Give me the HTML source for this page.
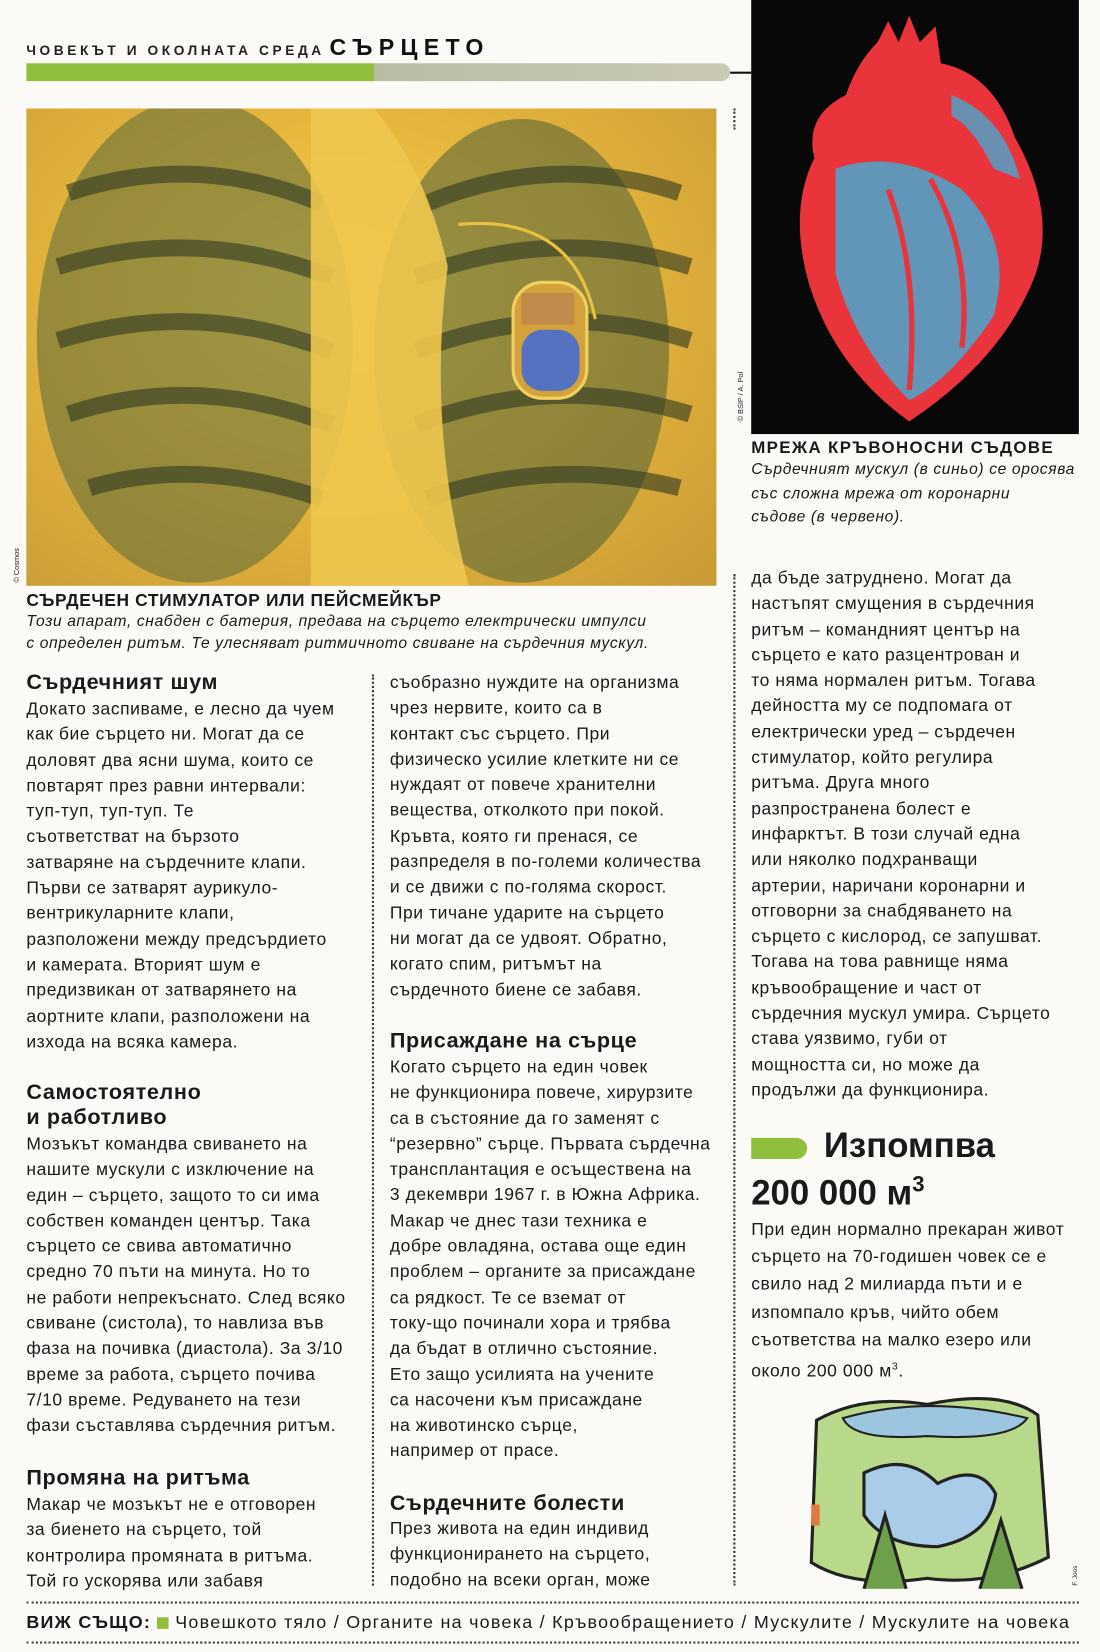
<!DOCTYPE html>
<html><head><meta charset="utf-8">
<style>
html,body{margin:0;padding:0;background:#fbfaf7;}
body{width:1100px;height:1652px;overflow:hidden;position:relative;}
#pg{position:absolute;left:0;top:0;width:1044px;height:1568px;transform:scale(1.0536);transform-origin:0 0;font-family:"Liberation Sans","DejaVu Sans",sans-serif;color:#1a1a1a;}
.abs{position:absolute;}
.body{font-size:16.6px;line-height:24.3px;white-space:nowrap;letter-spacing:0.55px;}
.h{font-weight:bold;font-size:20.5px;white-space:nowrap;line-height:24.3px;letter-spacing:0.6px;}
.cap{font-size:14.8px;line-height:21px;font-style:italic;white-space:nowrap;letter-spacing:0.6px;}
.capb{font-size:16.5px;font-weight:bold;white-space:nowrap;letter-spacing:0.6px;}
.vdot{position:absolute;border-left:2px dotted #333;width:0;}
.hdot{position:absolute;border-top:2px dotted #444;height:0;}
</style></head><body>
<div id="pg">

<div class="abs" style="left:25px;top:32px;white-space:nowrap;">
 <span style="font-size:13px;letter-spacing:3.4px;font-weight:bold;color:#222;">ЧОВЕКЪТ И ОКОЛНАТА СРЕДА</span>
 <span style="font-size:22px;letter-spacing:6px;font-weight:bold;color:#111;">СЪРЦЕТО</span>
</div>
<div class="abs" style="left:25px;top:60px;width:668px;height:17px;border-radius:0 9px 9px 0;background:linear-gradient(90deg,#8fbf3c 0,#8fbf3c 330px,#b9bca5 330px,#c9c9b6 100%);"></div>
<div class="abs" style="left:693px;top:68px;width:20px;height:2px;background:#111;"></div>

<div class="abs" style="left:25px;top:103px;width:655px;height:453px;overflow:hidden;background:radial-gradient(ellipse at 45% 40%,#f2cf55 0,#e6b63c 45%,#c89a36 100%);">
 <svg width="655" height="453" viewBox="0 0 655 453">
  <ellipse cx="160" cy="220" rx="150" ry="230" fill="#5b6a3a" opacity="0.55"/>
  <ellipse cx="470" cy="230" rx="140" ry="220" fill="#4e6138" opacity="0.55"/>
  <g stroke="#2f3a22" stroke-width="16" fill="none" opacity="0.6">
   <path d="M40 80 Q160 40 280 90"/><path d="M30 150 Q160 110 290 160"/><path d="M30 220 Q160 180 290 230"/><path d="M40 290 Q160 250 290 300"/><path d="M60 360 Q160 330 280 370"/>
   <path d="M380 90 Q500 40 620 80"/><path d="M370 160 Q500 110 630 150"/><path d="M370 230 Q500 180 630 220"/><path d="M370 300 Q500 250 630 290"/><path d="M380 370 Q500 330 620 360"/>
  </g>
  <path d="M270 0 L270 453 L420 453 Q380 300 400 150 Q380 60 330 0 Z" fill="#eec64e" opacity="0.9"/>
  <path d="M410 110 Q520 100 540 200" stroke="#e9c040" stroke-width="3" fill="none"/>
  <rect x="462" y="165" width="70" height="110" rx="28" fill="#d4a23a" stroke="#f0d060" stroke-width="3"/>
  <rect x="470" y="210" width="55" height="58" rx="20" fill="#5572c0"/>
  <rect x="470" y="175" width="50" height="30" fill="#c08a4a"/>
 </svg>
</div>
<div class="vdot" style="left:696px;top:103px;height:20px;"></div>

<div class="abs" style="left:713px;top:0;width:311px;height:412px;background:#080808;">
 <svg width="311" height="412" viewBox="0 0 311 412">
  <path d="M120 40 L130 20 L140 40 L150 15 L160 40 L175 25 L180 60 Q230 70 250 130 Q290 200 270 260 Q240 340 150 400 Q80 350 55 270 Q35 200 60 150 Q50 110 90 90 Q100 60 120 40 Z" fill="#e8343a"/>
  <path d="M80 160 Q140 140 200 180 Q250 230 230 300 Q190 360 150 380 Q100 330 80 260 Z" fill="#4aa8d0" opacity="0.85"/>
  <path d="M190 90 Q240 110 255 170 L230 160 Q210 120 190 110 Z" fill="#4aa8d0" opacity="0.8"/>
  <path d="M130 180 Q160 260 150 370 M170 170 Q210 240 200 330" stroke="#e8343a" stroke-width="5" fill="none"/>
 </svg>
</div>
<div class="abs" style="left:700px;top:400px;font-size:7px;transform:rotate(-90deg);transform-origin:0 0;white-space:nowrap;">© BSIP / A. Pol</div>
<div class="abs" style="left:13px;top:553px;font-size:7px;transform:rotate(-90deg);transform-origin:0 0;white-space:nowrap;">© Cosmos</div>

<div class="abs" style="left:713px;top:417px;">
 <div class="capb" style="line-height:18px;font-size:16px;letter-spacing:1.3px;">МРЕЖА КРЪВОНОСНИ СЪДОВЕ</div>
 <div class="cap" style="line-height:22.5px;">Сърдечният мускул (в синьо) се оросява<br>със сложна мрежа от коронарни<br>съдове (в червено).</div>
</div>

<div class="abs" style="left:25px;top:561px;">
 <div class="capb" style="line-height:19px;">СЪРДЕЧЕН СТИМУЛАТОР ИЛИ ПЕЙСМЕЙКЪР</div>
 <div class="cap" style="line-height:20.5px;">Този апарат, снабден с батерия, предава на сърцето електрически импулси<br>с определен ритъм. Те улесняват ритмичното свиване на сърдечния мускул.</div>
</div>

<div class="vdot" style="left:353px;top:640px;height:865px;"></div>
<div class="vdot" style="left:696px;top:545px;height:960px;"></div>

<!-- column 1 -->
<div class="abs h" style="left:25px;top:636px;">Сърдечният шум</div>
<div class="abs body" style="left:25px;top:661px;">Докато заспиваме, е лесно да чуем<br>как бие сърцето ни. Могат да се<br>доловят два ясни шума, които се<br>повтарят през равни интервали:<br>туп-туп, туп-туп. Те<br>съответстват на бързото<br>затваряне на сърдечните клапи.<br>Първи се затварят аурикуло-<br>вентрикуларните клапи,<br>разположени между предсърдието<br>и камерата. Вторият шум е<br>предизвикан от затварянето на<br>аортните клапи, разположени на<br>изхода на всяка камера.</div>
<div class="abs h" style="left:25px;top:1025px;">Самостоятелно<br>и работливо</div>
<div class="abs body" style="left:25px;top:1074px;">Мозъкът командва свиването на<br>нашите мускули с изключение на<br>един – сърцето, защото то си има<br>собствен команден център. Така<br>сърцето се свива автоматично<br>средно 70 пъти на минута. Но то<br>не работи непрекъснато. След всяко<br>свиване (систола), то навлиза във<br>фаза на почивка (диастола). За 3/10<br>време за работа, сърцето почива<br>7/10 време. Редуването на тези<br>фази съставлява сърдечния ритъм.</div>
<div class="abs h" style="left:25px;top:1391px;">Промяна на ритъма</div>
<div class="abs body" style="left:25px;top:1416px;">Макар че мозъкът не е отговорен<br>за биенето на сърцето, той<br>контролира промяната в ритъма.<br>Той го ускорява или забавя</div>

<!-- column 2 -->
<div class="abs body" style="left:370px;top:636px;">съобразно нуждите на организма<br>чрез нервите, които са в<br>контакт със сърцето. При<br>физическо усилие клетките ни се<br>нуждаят от повече хранителни<br>вещества, отколкото при покой.<br>Кръвта, която ги пренася, се<br>разпределя в по-големи количества<br>и се движи с по-голяма скорост.<br>При тичане ударите на сърцето<br>ни могат да се удвоят. Обратно,<br>когато спим, ритъмът на<br>сърдечното биене се забавя.</div>
<div class="abs h" style="left:370px;top:976px;">Присаждане на сърце</div>
<div class="abs body" style="left:370px;top:1001px;">Когато сърцето на един човек<br>не функционира повече, хирурзите<br>са в състояние да го заменят с<br>“резервно” сърце. Първата сърдечна<br>трансплантация е осъществена на<br>3 декември 1967 г. в Южна Африка.<br>Макар че днес тази техника е<br>добре овладяна, остава още един<br>проблем – органите за присаждане<br>са рядкост. Те се вземат от<br>току-що починали хора и трябва<br>да бъдат в отлично състояние.<br>Ето защо усилията на учените<br>са насочени към присаждане<br>на животинско сърце,<br>например от прасе.</div>
<div class="abs h" style="left:370px;top:1415px;">Сърдечните болести</div>
<div class="abs body" style="left:370px;top:1439px;">През живота на един индивид<br>функционирането на сърцето,<br>подобно на всеки орган, може</div>

<!-- column 3 -->
<div class="abs body" style="left:713px;top:537px;">да бъде затруднено. Могат да<br>настъпят смущения в сърдечния<br>ритъм – командният център на<br>сърцето е като разцентрован и<br>то няма нормален ритъм. Тогава<br>дейността му се подпомага от<br>електрически уред – сърдечен<br>стимулатор, който регулира<br>ритъма. Друга много<br>разпространена болест е<br>инфарктът. В този случай една<br>или няколко подхранващи<br>артерии, наричани коронарни и<br>отговорни за снабдяването на<br>сърцето с кислород, се запушват.<br>Тогава на това равнище няма<br>кръвообращение и част от<br>сърдечния мускул умира. Сърцето<br>става уязвимо, губи от<br>мощността си, но може да<br>продължи да функционира.</div>

<div class="abs" style="left:713px;top:1080px;width:53px;height:20px;border-radius:0 10px 10px 0;background:#8fbf3c;"></div>
<div class="abs" style="left:713px;top:1068px;font-weight:bold;font-size:33px;line-height:38px;white-space:nowrap;"><span style="margin-left:69px;">Изпомпва</span><br>200 000 м<sup style="font-size:21px;">3</sup></div>
<div class="abs body" style="left:713px;top:1154px;line-height:26.2px;">При един нормално прекаран живот<br>сърцето на 70-годишен човек се е<br>свило над 2 милиарда пъти и е<br>изпомпало кръв, чийто обем<br>съответства на малко езеро или<br>около 200 000 м<sup style="font-size:10px;">3</sup>.</div>

<div class="abs" style="left:760px;top:1318px;width:245px;height:190px;">
 <svg width="245" height="190" viewBox="0 0 245 190">
  <path d="M15 30 Q60 5 120 15 Q190 0 225 25 L235 160 Q180 188 120 180 Q50 190 10 165 Z" fill="#b8d98a" stroke="#222" stroke-width="3"/>
  <path d="M40 28 Q120 5 215 28 Q200 50 120 45 Q50 50 40 28 Z" fill="#9cc6e0" stroke="#222" stroke-width="2"/>
  <path d="M60 80 Q100 60 130 90 Q170 70 185 100 Q180 140 130 150 Q80 150 60 120 Z" fill="#a9cde8" stroke="#222" stroke-width="3"/>
  <path d="M60 190 L80 120 L100 190 M170 190 L190 125 L210 190" fill="#6ea04c" stroke="#222" stroke-width="3"/>
  <rect x="10" y="110" width="8" height="20" fill="#e07a3a"/>
 </svg>
</div>
<div class="abs" style="left:1018px;top:1505px;font-size:6px;transform:rotate(-90deg);transform-origin:0 0;white-space:nowrap;">F. Joos</div>

<div class="hdot" style="left:25px;top:1520px;width:999px;"></div>
<div class="abs" style="left:25px;top:1530px;font-size:17px;white-space:nowrap;line-height:20px;letter-spacing:1.2px;"><b>ВИЖ СЪЩО:</b> <span style="display:inline-block;width:11px;height:11px;background:#8fbf3c;vertical-align:-1px;"></span> <span>Човешкото тяло / Органите на човека / Кръвообращението / Мускулите / Мускулите на човека</span></div>
<div class="hdot" style="left:25px;top:1558px;width:999px;"></div>
</div>
</body></html>
